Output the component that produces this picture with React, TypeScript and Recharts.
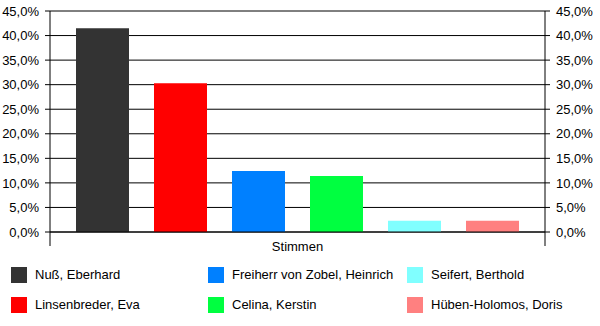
import React from 'react';
import { ComposedChart, Bar, Line, XAxis, YAxis, CartesianGrid, Legend } from 'recharts';

const candidates = [
  'Nuß, Eberhard',
  'Linsenbreder, Eva',
  'Freiherr von Zobel, Heinrich',
  'Celina, Kerstin',
  'Seifert, Berthold',
  'Hüben-Holomos, Doris',
];
const votes = [41.5, 30.3, 12.4, 11.4, 2.3, 2.3];
const colors = ['#333333', '#ff0000', '#0080ff', '#00ff40', '#80ffff', '#ff8080'];
const yTicks = [0, 5, 10, 15, 20, 25, 30, 35, 40, 45];
const category = 'Stimmen';

const keys = candidates.map((_, i) => `c${i}`);
const row: Record<string, string | number> = { name: category };
keys.forEach((k, i) => {
  row[k] = votes[i];
});
const data = [row];

const font = '"Liberation Sans", Arial, sans-serif';
const fmt = (v: number) => `${v.toFixed(1).replace('.', ',')}%`;

// category tick: label plus the boundary tick marks below the axis
const CategoryTick = (props: any) => {
  const { x, y, payload, width } = props;
  const half = payload && payload.offset ? payload.offset : width / 2;
  return (
    <g>
      <line x1={x - half} y1={y} x2={x - half} y2={y + 14} stroke="#000" />
      <line x1={x + half} y1={y} x2={x + half} y2={y + 14} stroke="#000" />
      <text x={x} y={y + 19} textAnchor="middle" fill="#000" fontSize={13} fontFamily={font}>
        {payload.value}
      </text>
    </g>
  );
};

const LegendGrid = (props: any) => {
  const items = (props.payload || [])
    .filter((it: any) => candidates.includes(it.value))
    .sort((a: any, b: any) => candidates.indexOf(a.value) - candidates.indexOf(b.value));
  return (
    <div
      style={{
        display: 'grid',
        gridTemplateColumns: '197px 199px 190px',
        gridTemplateRows: '30px 29px',
        gridAutoFlow: 'column',
        paddingLeft: 11,
        height: 59,
        boxSizing: 'border-box',
        fontFamily: font,
        fontSize: 13,
        color: '#000',
      }}
    >
      {items.map((it: any) => (
        <div key={it.value} style={{ display: 'flex', alignItems: 'flex-start', height: 16 }}>
          <span style={{ width: 16, height: 16, background: it.color, display: 'inline-block', marginRight: 8 }} />
          <span style={{ lineHeight: '16px', whiteSpace: 'nowrap' }}>{it.value}</span>
        </div>
      ))}
    </div>
  );
};

const App: React.FC = () => {
  return (
    <div style={{ position: 'absolute', left: 0, top: 0, width: 600, height: 326, background: '#fff' }}>
      <ComposedChart
        width={600}
        height={326}
        data={data}
        margin={{ top: 11, right: 0, left: 0, bottom: 0 }}
        barSize={53}
        barGap={25}
      >
        <CartesianGrid vertical={false} stroke="#000" yAxisId="left" />
        <XAxis
          dataKey="name"
          height={35}
          axisLine={{ stroke: '#000' }}
          tickLine={false}
          tickSize={0}
          tickMargin={0}
          tick={<CategoryTick />}
        />
        <YAxis
          yAxisId="left"
          width={50}
          domain={[0, 45]}
          ticks={yTicks}
          tickFormatter={fmt}
          axisLine={{ stroke: '#000' }}
          tickLine={{ stroke: '#000' }}
          tickSize={5}
          tickMargin={6}
          tick={{ fill: '#000', fontSize: 13, fontFamily: font }}
        />
        <YAxis
          yAxisId="right"
          orientation="right"
          width={55}
          domain={[0, 45]}
          ticks={yTicks}
          allowDataOverflow
          tickFormatter={fmt}
          axisLine={{ stroke: '#000' }}
          tickLine={{ stroke: '#000' }}
          tickSize={5}
          tickMargin={6}
          tick={{ fill: '#000', fontSize: 13, fontFamily: font }}
        />
        <Legend verticalAlign="bottom" align="left" content={<LegendGrid />} />
        {keys.map((k, i) => (
          <Bar
            key={k}
            dataKey={k}
            name={candidates[i]}
            fill={colors[i]}
            yAxisId="left"
            isAnimationActive={false}
          />
        ))}
        {/* invisible series so the right axis gets its ticks */}
        <Line
          dataKey={keys[0]}
          yAxisId="right"
          stroke="none"
          dot={false}
          activeDot={false}
          legendType="none"
          isAnimationActive={false}
        />
      </ComposedChart>
    </div>
  );
};

export default App;
